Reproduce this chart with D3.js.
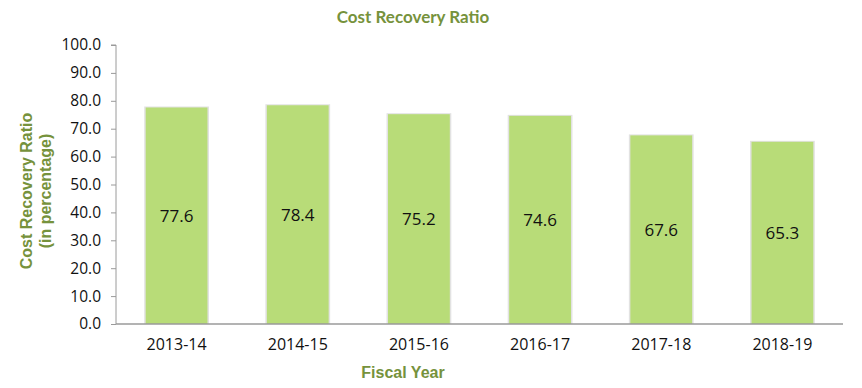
<!DOCTYPE html>
<html><head><meta charset="utf-8">
<script src="https://cdn.jsdelivr.net/npm/d3@7"></script>
<style>body{margin:0;background:#fff}svg{display:block}</style>
</head><body>
<script>
const categories = ["2013-14","2014-15","2015-16","2016-17","2017-18","2018-19"];
const values = [77.6,78.4,75.2,74.6,67.6,65.3];
const yTicks = [0,10,20,30,40,50,60,70,80,90,100];

const W=862,H=388;
const m={left:116,right:19,top:45,bottom:64};
const svg=d3.select("body").append("svg").attr("width",W).attr("height",H);
const x=d3.scaleBand().domain(categories).range([m.left,W-m.right]).paddingInner(0.49).paddingOuter(0.245);
const y=d3.scaleLinear().domain([0,100]).range([H-m.bottom,m.top]);

// bars with faint shadow
const g=svg.append("g");
g.selectAll("rect.sh").data(values).join("rect")
 .attr("x",(d,i)=>x(categories[i])-1.5).attr("width",x.bandwidth()+3)
 .attr("y",d=>y(d)-1).attr("height",d=>y(0)-y(d)+1)
 .attr("fill","#e2e2e2");
g.selectAll("rect.bar").data(values).join("rect")
 .attr("x",(d,i)=>x(categories[i])).attr("width",x.bandwidth())
 .attr("y",d=>y(d)).attr("height",d=>y(0)-y(d))
 .attr("fill","#b8dc78");
g.selectAll("text.v").data(values).join("text")
 .attr("x",(d,i)=>x(categories[i])+x.bandwidth()/2)
 .attr("y",d=>(y(d)+y(0))/2).attr("dy","0.35em")
 .attr("text-anchor","middle").attr("font-family","Open Sans, sans-serif").attr("font-size",17).attr("fill","#111")
 .text(d=>d.toFixed(1));

// y axis
const ya=svg.append("g").attr("transform",`translate(${m.left},0)`)
 .call(d3.axisLeft(y).tickValues(yTicks).tickFormat(d3.format(".1f")).tickSize(5).tickPadding(10));
ya.select(".domain").attr("stroke","#9a9a9a").attr("d",`M-5,${y(100)}H0V${y(0)}`);
ya.selectAll(".tick line").attr("stroke","#9a9a9a");
ya.selectAll("text").attr("font-family","Open Sans, sans-serif").attr("font-size",15.5).attr("fill","#111");

// x axis
const xa=svg.append("g").attr("transform",`translate(0,${y(0)})`)
 .call(d3.axisBottom(x).tickSize(0).tickPadding(15).tickSizeOuter(0));
xa.select(".domain").attr("stroke","#9a9a9a").attr("stroke-width",1.5).attr("d",`M${m.left},0H${W-m.right}`);
xa.selectAll("text").attr("font-family","Open Sans, sans-serif").attr("font-size",16).attr("fill","#111");

// titles
const green="#76923c";
svg.append("text").attr("x",413).attr("y",23).attr("text-anchor","middle")
 .attr("font-family","Lato, sans-serif").attr("font-weight","bold").attr("font-size",17).attr("fill",green)
 .text("Cost Recovery Ratio");
svg.append("text").attr("x",403).attr("y",378).attr("text-anchor","middle")
 .attr("font-family","Liberation Sans, Arial, sans-serif").attr("font-weight","bold").attr("font-size",16).attr("fill",green)
 .text("Fiscal Year");
const yt=svg.append("text").attr("transform","translate(32,191) rotate(-90)").attr("text-anchor","middle")
 .attr("font-family","Liberation Sans, Arial, sans-serif").attr("font-weight","bold").attr("font-size",16).attr("fill",green);
yt.append("tspan").attr("x",0).attr("dy",0).text("Cost Recovery Ratio");
yt.append("tspan").attr("x",0).attr("dy",19).text("(in percentage)");
</script>
</body></html>
